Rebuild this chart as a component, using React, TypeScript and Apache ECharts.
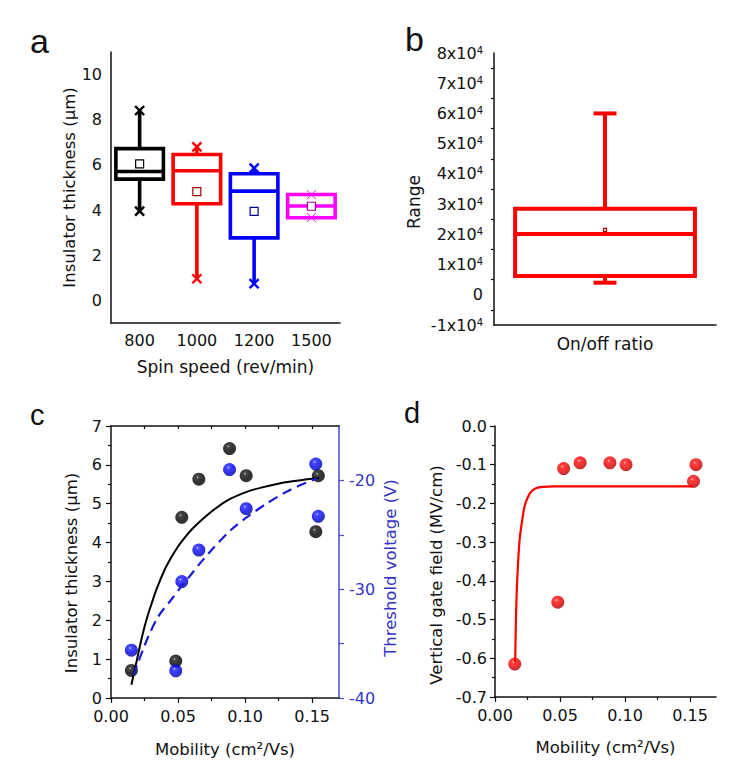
import React, { useEffect, useRef } from 'react';
import * as echarts from 'echarts';

// ---------- Panel a: insulator thickness vs spin speed ----------
const speedCats = ['800', '1000', '1200', '1500'];
// [min, q1, median, q3, max, mean]
const box800 = [3.95, 5.37, 5.71, 6.72, 8.41, 6.05];
const box1000 = [0.96, 4.28, 5.74, 6.46, 6.8, 4.82];
const box1200 = [0.74, 2.77, 4.84, 5.61, 5.86, 3.94];
const box1500 = [3.67, 3.66, 4.18, 4.69, 4.68, 4.17];
const boxColors = ['#000000', '#ff0000', '#0000ff', '#ff00ff'];
const meanColors = ['#000000', '#a00000', '#000090', '#a000a0'];
const thickMajor = [0, 2, 4, 6, 8, 10];
const thickMinor = [-1, 1, 3, 5, 7, 9, 11];

// ---------- Panel b: on/off ratio ----------
const ratioCats = ['On/off ratio'];
const ratioBox = [4000, 6200, 20100, 28500, 60000, 21500];

// ---------- Panel c / d: vs mobility ----------
const mobility = [0.0152, 0.0483, 0.0528, 0.0655, 0.0884, 0.1008, 0.1527, 0.1546];
const thicknessPts = [0.71, 0.95, 4.65, 5.63, 6.42, 5.72, 4.28, 5.72];
const thresholdPts = [-35.6, -37.5, -29.3, -26.4, -19.0, -22.6, -18.5, -23.3];
const fieldPts = [-0.615, -0.455, -0.11, -0.095, -0.095, -0.1, -0.143, -0.1];

const thickFitX = [0.0152, 0.0185, 0.021, 0.024, 0.027, 0.03, 0.034, 0.04, 0.045, 0.05, 0.055, 0.06, 0.0665, 0.075, 0.085, 0.095, 0.105, 0.1164, 0.13, 0.14, 0.155];
const thickFitY = [0.34, 0.85, 1.25, 1.7, 2.08, 2.4, 2.8, 3.3, 3.62, 3.9, 4.13, 4.33, 4.55, 4.8, 5.05, 5.22, 5.35, 5.45, 5.55, 5.6, 5.66];
const vthFitX = [0.0167, 0.02, 0.025, 0.028, 0.0353, 0.0453, 0.0528, 0.06, 0.0665, 0.075, 0.089, 0.1, 0.1164, 0.13, 0.14, 0.1537];
const vthFitY = [-37.9, -36.8, -35.2, -34.3, -32.5, -30.9, -29.7, -28.6, -27.6, -26.4, -24.6, -23.5, -22.1, -21.1, -20.5, -19.8];
const fieldFitX = [0.0155, 0.0161, 0.0168, 0.0178, 0.0189, 0.0204, 0.0227, 0.025, 0.0278, 0.0319, 0.0367, 0.045, 0.152];
const fieldFitY = [-0.61, -0.5, -0.42, -0.35, -0.295, -0.255, -0.208, -0.186, -0.17, -0.16, -0.157, -0.156, -0.156];

const mobMajor = [0, 0.05, 0.1, 0.15];
const mobMinor = [0.025, 0.075, 0.125];
const mobTop = [0.025, 0.05, 0.075, 0.1, 0.125, 0.15];
const vthLabels = [-40, -30, -20];
const vthTicks = [-40, -35, -30, -25, -20];

const AX = '#111111';
const FONT = 'DejaVu Sans';
const BLUEAX = '#4848c8';
const BLUETXT = '#3434c4';

function ball(light: string, mid: string, edge: string, dark: string) {
  return {
    type: 'radial', x: 0.4, y: 0.34, r: 0.62,
    colorStops: [
      { offset: 0, color: light },
      { offset: 0.16, color: mid },
      { offset: 0.6, color: edge },
      { offset: 1, color: dark },
    ],
  };
}

function boxRenderer(ratio: number, lw: number, capW: number, markers: boolean, meanSize: number) {
  return (params: any, api: any) => {
    const idx = api.value(0);
    const mn = api.value(1), q1 = api.value(2), md = api.value(3), q3 = api.value(4), mx = api.value(5), mean = api.value(6);
    const cx = api.coord([idx, md])[0];
    const y = (v: number) => api.coord([idx, v])[1];
    const bw = api.size([1, 0])[0] * ratio;
    const color = api.visual('color');
    const mc = markers ? meanColors[params.dataIndex] : '#b00000';
    const st = { stroke: color, lineWidth: lw, fill: null };
    const children: any[] = [];
    if (mx > q3) children.push({ type: 'line', shape: { x1: cx, y1: y(q3), x2: cx, y2: y(mx) }, style: st });
    if (mn < q1) children.push({ type: 'line', shape: { x1: cx, y1: y(q1), x2: cx, y2: y(mn) }, style: st });
    if (capW > 0) {
      children.push({ type: 'line', shape: { x1: cx - capW / 2, y1: y(mx), x2: cx + capW / 2, y2: y(mx) }, style: st });
      children.push({ type: 'line', shape: { x1: cx - capW / 2, y1: y(mn), x2: cx + capW / 2, y2: y(mn) }, style: st });
    }
    children.push({ type: 'rect', shape: { x: cx - bw / 2, y: y(q3), width: bw, height: y(q1) - y(q3) }, style: st });
    children.push({ type: 'line', shape: { x1: cx - bw / 2, y1: y(md), x2: cx + bw / 2, y2: y(md) }, style: st });
    children.push({ type: 'rect', shape: { x: cx - meanSize / 2, y: y(mean) - meanSize / 2, width: meanSize, height: meanSize }, style: { stroke: mc, lineWidth: 1.2, fill: '#ffffff' } });
    if (markers) {
      const heavy = params.dataIndex < 3;
      const s = 4.5;
      [mn, mx].forEach((v) => {
        const py = y(v);
        children.push({ type: 'line', shape: { x1: cx - s, y1: py - s, x2: cx + s, y2: py + s }, style: { stroke: color, lineWidth: heavy ? 2.4 : 1 } });
        children.push({ type: 'line', shape: { x1: cx - s, y1: py + s, x2: cx + s, y2: py - s }, style: { stroke: color, lineWidth: heavy ? 2.4 : 1 } });
      });
    }
    return { type: 'group', children };
  };
}

const tickLbl = { fontFamily: FONT, fontSize: 16, color: AX };
const nameSt = { fontFamily: FONT, fontSize: 16.5, color: AX };

export default function App() {
  const ref = useRef<HTMLDivElement>(null);
  useEffect(() => {
    if (!ref.current) return;
    const chart = echarts.init(ref.current, undefined, { renderer: 'svg' });
    const line = { show: true, onZero: false, lineStyle: { color: AX, width: 1.5 } };
    const option: any = {
      animation: false,
      backgroundColor: '#ffffff',
      grid: [
        { left: 111, top: 52, width: 229, height: 271 },
        { left: 494, top: 53, width: 222, height: 272 },
        { left: 111, top: 426, width: 228, height: 272 },
        { left: 495, top: 426, width: 221, height: 271 },
      ],
      xAxis: [
        {
          type: 'category', gridIndex: 0, data: speedCats, position: 'bottom',
          axisLine: line, axisTick: { alignWithLabel: true, length: 5, lineStyle: { color: AX, width: 1.2 } },
          axisLabel: { ...tickLbl, margin: 9 },
          name: 'Spin speed (rev/min)', nameLocation: 'middle', nameGap: 35, nameTextStyle: { ...nameSt, fontSize: 17 },
        },
        {
          type: 'category', gridIndex: 1, data: ratioCats, position: 'bottom',
          axisLine: line, axisTick: { alignWithLabel: true, length: 6, lineStyle: { color: AX, width: 1.2 } },
          axisLabel: { ...tickLbl, fontSize: 17, margin: 10 },
        },
        {
          type: 'value', gridIndex: 2, min: 0, max: 0.17, position: 'bottom',
          axisLine: line, splitLine: { show: false },
          axisTick: { customValues: mobMajor, length: 5, lineStyle: { color: AX, width: 1.2 } },
          axisLabel: { ...tickLbl, margin: 10, customValues: mobMajor, formatter: (v: number) => v.toFixed(2) },
          name: 'Mobility (cm²/Vs)', nameLocation: 'middle', nameGap: 43, nameTextStyle: nameSt,
        },
        {
          type: 'value', gridIndex: 2, min: 0, max: 0.17, position: 'bottom',
          axisLine: { show: false, onZero: false }, splitLine: { show: false }, axisLabel: { show: false },
          axisTick: { customValues: mobMinor, length: 3, lineStyle: { color: AX, width: 1.2 } },
        },
        {
          type: 'value', gridIndex: 2, min: 0, max: 0.17, position: 'top',
          axisLine: line, splitLine: { show: false }, axisLabel: { show: false },
          axisTick: { inside: true, customValues: mobTop, length: 3, lineStyle: { color: AX, width: 1.2 } },
        },
        {
          type: 'value', gridIndex: 3, min: 0, max: 0.17, position: 'bottom',
          axisLine: line, splitLine: { show: false },
          axisTick: { customValues: mobMajor, length: 5, lineStyle: { color: AX, width: 1.2 } },
          axisLabel: { ...tickLbl, margin: 10, customValues: mobMajor, formatter: (v: number) => v.toFixed(2) },
          name: 'Mobility (cm²/Vs)', nameLocation: 'middle', nameGap: 42, nameTextStyle: nameSt,
        },
        {
          type: 'value', gridIndex: 3, min: 0, max: 0.17, position: 'bottom',
          axisLine: { show: false, onZero: false }, splitLine: { show: false }, axisLabel: { show: false },
          axisTick: { customValues: mobMinor, length: 3, lineStyle: { color: AX, width: 1.2 } },
        },
      ],
      yAxis: [
        {
          type: 'value', gridIndex: 0, min: -1, max: 11, position: 'left',
          axisLine: line, splitLine: { show: false },
          axisTick: { customValues: thickMajor, length: 5, lineStyle: { color: AX, width: 1.2 } },
          axisLabel: { ...tickLbl, margin: 9, customValues: thickMajor },
          name: 'Insulator thickness (µm)', nameLocation: 'middle', nameGap: 31, nameTextStyle: nameSt,
        },
        {
          type: 'value', gridIndex: 0, min: -1, max: 11, position: 'left',
          axisLine: { show: false, onZero: false }, splitLine: { show: false }, axisLabel: { show: false },
          axisTick: { customValues: thickMinor, length: 3, lineStyle: { color: AX, width: 1.2 } },
        },
        {
          type: 'value', gridIndex: 1, min: -10000, max: 80000, interval: 10000, position: 'left',
          axisLine: line, splitLine: { show: false },
          axisTick: { length: 5, lineStyle: { color: AX, width: 1.2 } },
          minorTick: { show: true, splitNumber: 2, length: 3, lineStyle: { color: AX, width: 1.2 } },
          axisLabel: {
            ...tickLbl, margin: 11,
            formatter: (v: number) => (v === 0 ? '0' : `${Math.round(v / 10000)}x10{s|4}`),
            rich: { s: { fontFamily: FONT, fontSize: 10, color: AX, verticalAlign: 'top', lineHeight: 10 } },
          },
          name: 'Range', nameLocation: 'middle', nameGap: 72, nameTextStyle: { ...nameSt, fontSize: 17, padding: [0, 26, 0, 0] },
        },
        {
          type: 'value', gridIndex: 2, min: 0, max: 7, interval: 1, position: 'left',
          axisLine: line, splitLine: { show: false },
          axisTick: { length: 5, lineStyle: { color: AX, width: 1.2 } },
          minorTick: { show: true, splitNumber: 2, length: 3, lineStyle: { color: AX, width: 1.2 } },
          axisLabel: { ...tickLbl, margin: 9 },
          name: 'Insulator thickness (µm)', nameLocation: 'middle', nameGap: 31, nameTextStyle: { ...nameSt, padding: [0, 22, 0, 0] },
        },
        {
          type: 'value', gridIndex: 2, min: -40, max: -15, position: 'right',
          axisLine: { show: true, onZero: false, lineStyle: { color: BLUEAX, width: 1.5 } }, splitLine: { show: false },
          axisTick: { customValues: vthTicks, length: 5, lineStyle: { color: BLUEAX, width: 1.2 } },
          axisLabel: { ...tickLbl, color: BLUETXT, margin: 10, customValues: vthLabels },
          name: 'Threshold voltage (V)', nameLocation: 'middle', nameGap: 43, nameTextStyle: { ...nameSt, color: BLUETXT, padding: [0, 12, 0, 0] },
        },
        {
          type: 'value', gridIndex: 3, min: -0.7, max: 0, interval: 0.1, position: 'left',
          axisLine: line, splitLine: { show: false },
          axisTick: { length: 5, lineStyle: { color: AX, width: 1.2 } },
          minorTick: { show: true, splitNumber: 2, length: 3, lineStyle: { color: AX, width: 1.2 } },
          axisLabel: { ...tickLbl, margin: 8, formatter: (v: number) => v.toFixed(1) },
          name: 'Vertical gate field (MV/cm)', nameLocation: 'middle', nameGap: 50, nameTextStyle: { ...nameSt, padding: [0, 27, 0, 0] },
        },
      ],
      series: [
        {
          type: 'custom', xAxisIndex: 0, yAxisIndex: 0,
          renderItem: boxRenderer(0.83, 3.6, 0, true, 8),
          encode: { x: 0, y: [1, 2, 3, 4, 5, 6] },
          data: [box800, box1000, box1200, box1500].map((b, i) => ({ value: [i, ...b], itemStyle: { color: boxColors[i] } })),
        },
        {
          type: 'custom', xAxisIndex: 1, yAxisIndex: 2,
          renderItem: boxRenderer(0.81, 4, 23, false, 3),
          encode: { x: 0, y: [1, 2, 3, 4, 5, 6] },
          data: [{ value: [0, ...ratioBox], itemStyle: { color: '#ff0000' } }],
        },
        {
          type: 'scatter', xAxisIndex: 2, yAxisIndex: 3, symbolSize: 13,
          itemStyle: { color: ball('#c4c4c4', '#1c1c1c', '#000000', '#000000') },
          data: mobility.map((m, i) => [m, thicknessPts[i]]),
        },
        {
          type: 'scatter', xAxisIndex: 2, yAxisIndex: 4, symbolSize: 13,
          itemStyle: { color: ball('#dfe2ff', '#1a22ff', '#0000f0', '#0000a4') },
          data: mobility.map((m, i) => [m, thresholdPts[i]]),
        },
        {
          type: 'line', xAxisIndex: 2, yAxisIndex: 3, showSymbol: false, smooth: 0.3,
          lineStyle: { color: '#000000', width: 2 },
          data: thickFitX.map((x, i) => [x, thickFitY[i]]),
        },
        {
          type: 'line', xAxisIndex: 2, yAxisIndex: 4, showSymbol: false, smooth: 0.3,
          lineStyle: { color: '#1a1ad0', width: 2.2, type: [10, 6] },
          data: vthFitX.map((x, i) => [x, vthFitY[i]]),
        },
        {
          type: 'scatter', xAxisIndex: 5, yAxisIndex: 5, symbolSize: 13,
          itemStyle: { color: ball('#ffe6c4', '#ff1414', '#f00000', '#b00000') },
          data: mobility.map((m, i) => [m, fieldPts[i]]),
        },
        {
          type: 'line', xAxisIndex: 5, yAxisIndex: 5, showSymbol: false, smooth: 0.2,
          lineStyle: { color: '#ff0000', width: 2.2 },
          data: fieldFitX.map((x, i) => [x, fieldFitY[i]]),
        },
      ],
      graphic: [
        { type: 'text', left: 30, top: 24, style: { text: 'a', font: '34px "Liberation Sans", Arial', fill: '#111' } },
        { type: 'text', left: 405, top: 22, style: { text: 'b', font: '34px "Liberation Sans", Arial', fill: '#111' } },
        { type: 'text', left: 30, top: 400, style: { text: 'c', font: '29px "Liberation Sans", Arial', fill: '#111' } },
        { type: 'text', left: 404, top: 398, style: { text: 'd', font: '29px "Liberation Sans", Arial', fill: '#111' } },
      ],
    };
    chart.setOption(option);
    return () => chart.dispose();
  }, []);
  return <div ref={ref} style={{ position: 'fixed', left: 0, top: 0, width: 746, height: 775, background: '#fff' }} />;
}
